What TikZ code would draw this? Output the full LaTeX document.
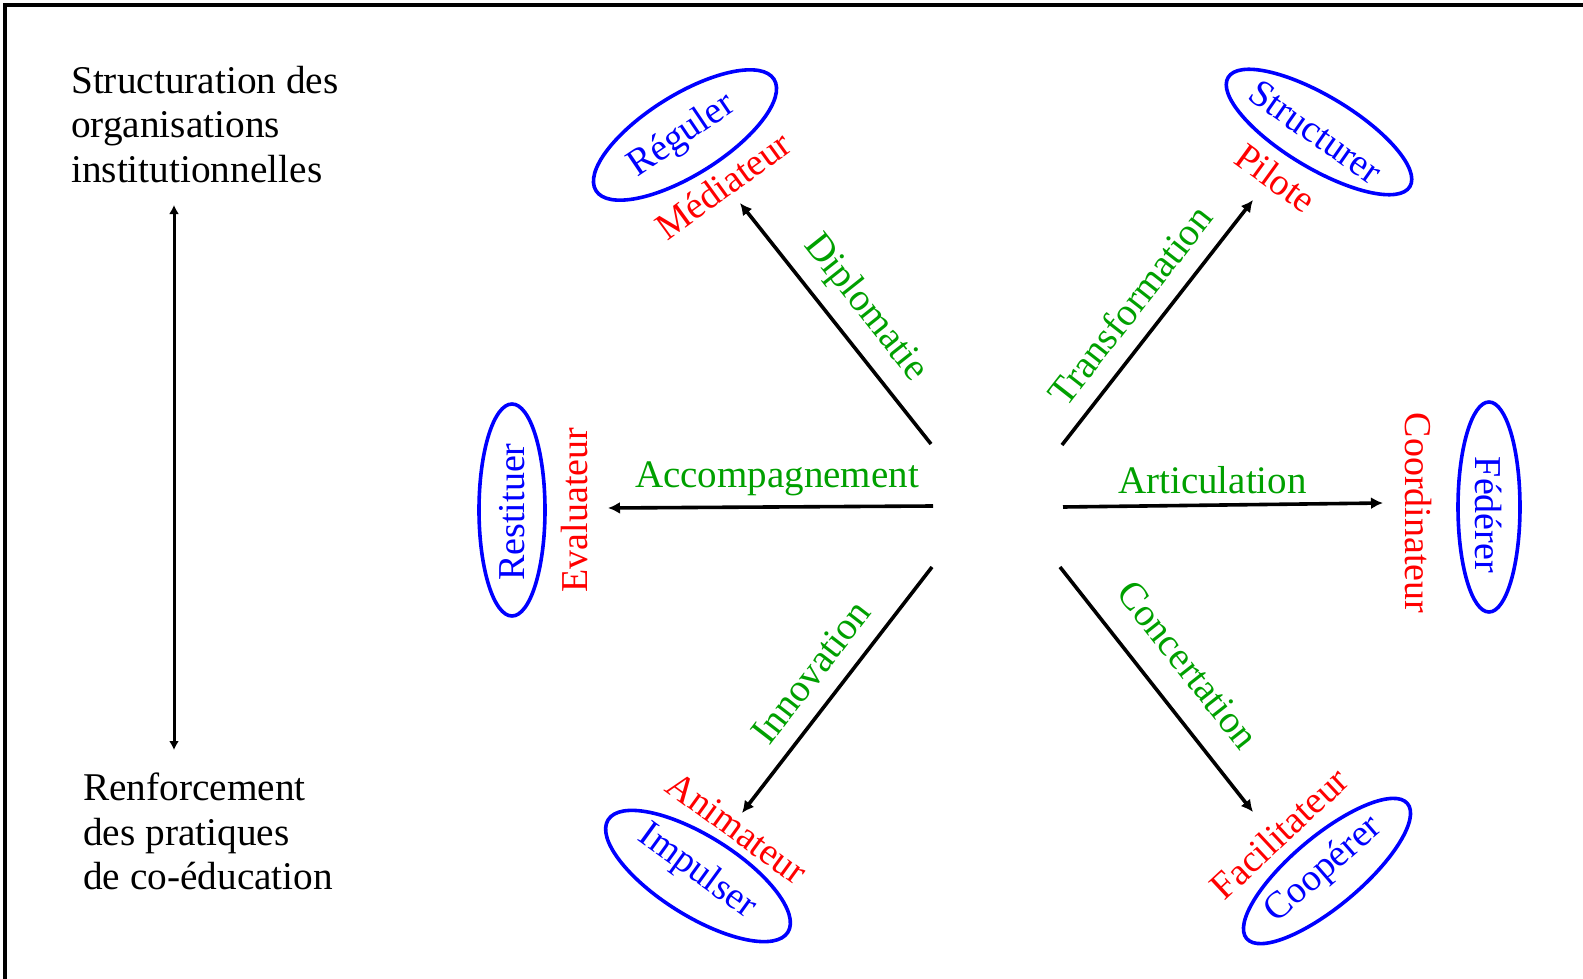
\documentclass[tikz,border=0pt]{standalone}
\usepackage{fontspec}
\setmainfont{Liberation Serif}
\usetikzlibrary{arrows.meta,shapes.geometric}
\definecolor{lgreen}{RGB}{0,160,0}
\begin{document}
\begin{tikzpicture}[x=1pt,y=-1pt,
 arr/.style={line width=3.6pt,-{Latex[length=12pt,width=12pt]}},
 ell/.style={draw=blue,line width=3.6pt,ellipse,inner sep=0pt},
 bt/.style={text=blue,inner sep=0pt,font=\fontsize{38}{40}\selectfont},
 rl/.style={text=red,inner sep=0pt,font=\fontsize{38}{40}\selectfont},
 gl/.style={text=lgreen,inner sep=0pt,font=\fontsize{39}{40}\selectfont},
 bl/.style={inner sep=0pt,align=left,anchor=north west,font=\fontsize{39.3}{44.5}\selectfont}]
\useasboundingbox (0,0) rectangle (1583,979);
\draw[line width=4pt] (5,990) -- (5,5) -- (1590,5);
% left axis
\node[bl] (top) at (71,66) {Structuration des\\organisations\\institutionnelles};
\node[bl] (bot) at (83,773) {Renforcement\\des pratiques\\de co-éducation};
\coordinate (la) at (174,205);
\coordinate (lb) at (174,750);
\draw[line width=3pt,{Latex[length=9pt,width=10pt]}-{Latex[length=9pt,width=10pt]}] (la) -- (lb);
% ellipses
\node[ell,minimum width=210,minimum height=80,rotate=32] (reg) at (685,135) {};
\node[ell,minimum width=212,minimum height=72,rotate=-31] (str) at (1319,132) {};
\node[ell,minimum width=212,minimum height=66,rotate=90] (res) at (512,510) {};
\node[ell,minimum width=210,minimum height=62,rotate=-90] (fed) at (1489,507) {};
\node[ell,minimum width=212,minimum height=80,rotate=-32] (imp) at (698,876) {};
\node[ell,minimum width=210,minimum height=70,rotate=40] (coop) at (1327,871) {};
% actions
\node[bt,rotate=34] (treg) at (682,136) {Réguler};
\node[bt,rotate=-35] (tstr) at (1316,132) {Structurer};
\node[bt,rotate=90] (tres) at (512,512) {Restituer};
\node[bt,rotate=-90] (tfed) at (1489,515) {Fédérer};
\node[bt,rotate=-36] (timp) at (697,872) {Impulser};
\node[bt,rotate=41] (tcoop) at (1324,870) {Coopérer};
% roles
\node[rl,rotate=36] (med) at (723,185) {Médiateur};
\node[rl,rotate=-36] (pil) at (1276,178) {Pilote};
\node[rl,rotate=90] (eva) at (574,510) {Evaluateur};
\node[rl,rotate=-90] (coo) at (1418,513) {Coordinateur};
\node[rl,rotate=-36] (ani) at (737,828) {Animateur};
\node[rl,rotate=43] (fac) at (1279,833) {Facilitateur};
% green labels
\node[gl,rotate=-51.6] (dip) at (865,308) {Diplomatie};
\node[gl,rotate=52] (tra) at (1130,305) {Transformation};
\node[gl,anchor=base east] (acc) at (919,487) {Accompagnement};
\node[gl,anchor=base west] (art) at (1118,493) {Articulation};
\node[gl,rotate=52.3] (inn) at (811,672) {Innovation};
\node[gl,rotate=-51.8] (con) at (1188,665) {Concertation};
% arrows
\coordinate (o1) at (931,444); \coordinate (e1) at (740,203);
\coordinate (o2) at (1062,445); \coordinate (e2) at (1253,200);
\coordinate (o3) at (933,506); \coordinate (e3) at (608,508);
\coordinate (o4) at (1063,507); \coordinate (e4) at (1383,503);
\coordinate (o5) at (932,567); \coordinate (e5) at (742,813);
\coordinate (o6) at (1060,567); \coordinate (e6) at (1253,812);
\draw[arr] (o1) -- (e1);
\draw[arr] (o2) -- (e2);
\draw[arr] (o3) -- (e3);
\draw[arr] (o4) -- (e4);
\draw[arr] (o5) -- (e5);
\draw[arr] (o6) -- (e6);
\end{tikzpicture}
\end{document}
